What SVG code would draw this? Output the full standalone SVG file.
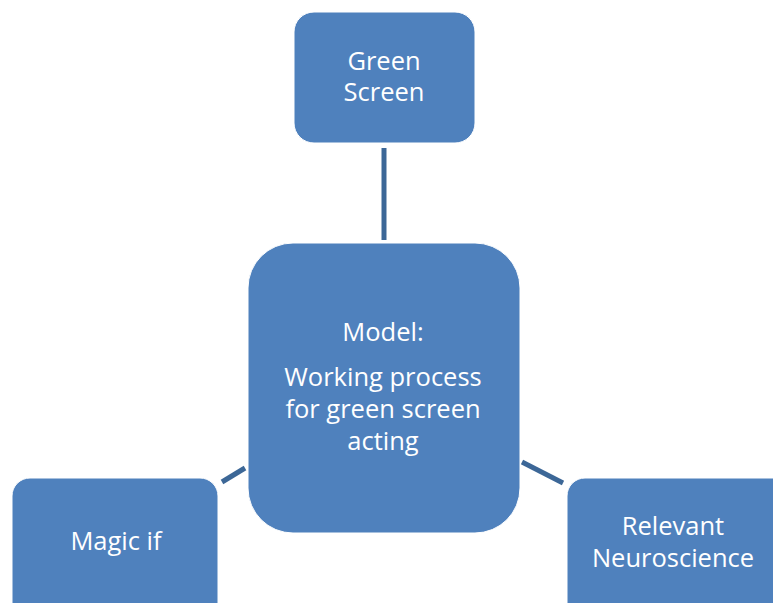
<svg xmlns="http://www.w3.org/2000/svg" width="773" height="603" viewBox="0 0 773 603">
<style>
.box{fill:#4F81BD;stroke:#ffffff;stroke-width:1}
.lbl{font-family:"Open Sans","Liberation Sans",sans-serif;font-size:25.5px;fill:#ffffff;text-anchor:middle}
.con{stroke:#3C6797;stroke-width:5;fill:none}
</style>
<rect width="773" height="603" fill="#ffffff"/>
<g id="connectors">
<line class="con" x1="384" y1="148" x2="384" y2="240"/>
<line class="con" x1="222" y1="482" x2="245" y2="468"/>
<line class="con" x1="522" y1="462" x2="563" y2="483"/>
</g>
<g id="green-screen">
<rect class="box" x="294" y="12" width="181" height="131" rx="20"/>
<text class="lbl" x="384" y="70">Green</text>
<text class="lbl" x="384" y="101">Screen</text>
</g>
<g id="model">
<rect class="box" x="248" y="243" width="272" height="290" rx="45"/>
<text class="lbl" x="383" y="341">Model:</text>
<text class="lbl" x="383" y="386">Working process</text>
<text class="lbl" x="383" y="418">for green screen</text>
<text class="lbl" x="383" y="450">acting</text>
</g>
<g id="magic-if">
<rect class="box" x="12" y="478" width="206" height="150" rx="18"/>
<text class="lbl" x="116" y="550">Magic if</text>
</g>
<g id="relevant-neuroscience">
<rect class="box" x="567" y="478" width="230" height="150" rx="18"/>
<text class="lbl" x="673" y="535">Relevant</text>
<text class="lbl" x="673" y="567">Neuroscience</text>
</g>
</svg>
